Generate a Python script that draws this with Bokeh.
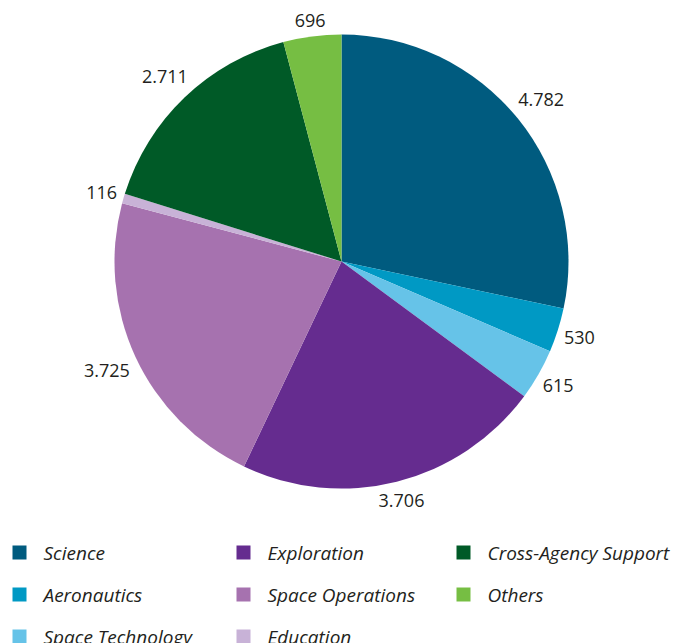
import numpy as np
from bokeh.plotting import figure
from bokeh.models import Range1d, ColumnDataSource
from bokeh.core.properties import value
from bokeh.embed import file_html
from bokeh.resources import INLINE

categories = ["Science", "Aeronautics", "Space Technology", "Exploration",
              "Space Operations", "Education", "Cross-Agency Support", "Others"]
values = [4782, 530, 615, 3706, 3725, 116, 2711, 696]
colors = ["#005B7F", "#0099C4", "#66C3E8", "#652C8F",
          "#A672AF", "#C8B2D7", "#005A27", "#76BE43"]
legend_columns = [["Science", "Aeronautics", "Space Technology"],
                  ["Exploration", "Space Operations", "Education"],
                  ["Cross-Agency Support", "Others"]]

W, H = 678, 643
CX, CY, R = 341, H - 261, 227
FONT = "Open Sans"
TXT = "#231F20"

p = figure(width=W, height=H, x_range=Range1d(0, W), y_range=Range1d(0, H),
           output_backend="svg", toolbar_location=None, min_border=0)
p.axis.visible = False
p.grid.visible = False
p.outline_line_color = None
p.background_fill_color = "white"

vals = np.array(values, dtype=float)
frac = vals / vals.sum()
cum_end = np.cumsum(frac)
cum_start = cum_end - frac
start = np.pi / 2 - 2 * np.pi * cum_start
end = np.pi / 2 - 2 * np.pi * cum_end

src = ColumnDataSource(dict(x=[CX] * len(vals), y=[CY] * len(vals),
                            start=list(start), end=list(end), color=colors))
p.wedge(x="x", y="y", radius=R, start_angle="start", end_angle="end",
        direction="clock", fill_color="color", line_color=None, source=src)

# value labels outside the pie
labels = [f"{v:,}".replace(",", ".") for v in values]
theta = 2 * np.pi * (cum_start + cum_end) / 2
ux, uy = np.sin(theta), np.cos(theta)
tw = np.array([len(s) * 9.5 for s in labels])
th = 14.0
gap = 7
d = R + gap + (tw / 2) * np.abs(ux) + (th / 2) * np.abs(uy)
lsrc = ColumnDataSource(dict(x=list(CX + d * ux), y=list(CY + d * uy), t=labels))
p.text(x="x", y="y", text="t", source=lsrc, text_align="center",
       text_baseline="middle", text_font=value(FONT), text_font_size="18px",
       text_color=TXT)

# legend (column-major grid)
col_x = [19, 243, 463]
row_y0 = H - 552
row_step = 42
lx, ly, lc, tx, ty, tt = [], [], [], [], [], []
for ci, col in enumerate(legend_columns):
    for ri, name in enumerate(col):
        y = row_y0 - ri * row_step
        lx.append(col_x[ci]); ly.append(y)
        lc.append(colors[categories.index(name)])
        tx.append(col_x[ci] + 24); ty.append(y); tt.append(name)
p.scatter(x=lx, y=ly, marker="square", size=14, fill_color=lc, line_color=None)
p.text(x=tx, y=ty, text=tt, text_align="left", text_baseline="middle",
       text_font=value(FONT), text_font_size="19px", text_font_style="italic",
       text_color=TXT)

open("out.html", "w").write(file_html(p, INLINE))
